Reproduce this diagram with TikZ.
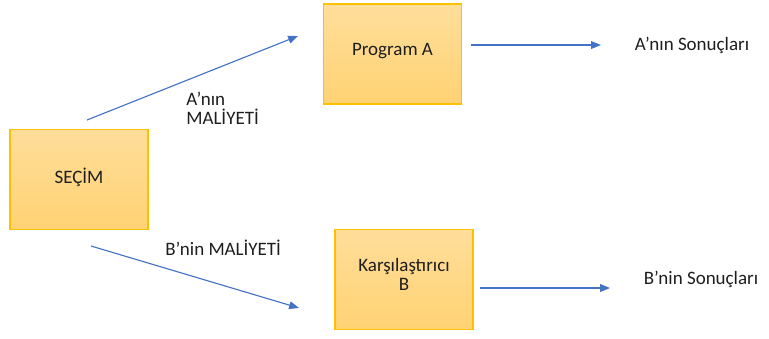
\documentclass[tikz,border=0pt]{standalone}
\usepackage{fontspec}
\setmainfont{Carlito}
\usepackage{xcolor}
\usepackage{tikz}
\usetikzlibrary{arrows.meta}

\definecolor{boxtop}{RGB}{255,222,155}
\definecolor{boxbot}{RGB}{255,210,115}
\definecolor{boxline}{RGB}{255,192,0}
\definecolor{arrowblue}{RGB}{68,114,196}
\definecolor{txt}{RGB}{30,30,30}

\tikzset{
  box/.style={top color=boxtop,bottom color=boxbot,draw=boxline,line width=0.9pt,text=txt,
    minimum width=138*0.025cm,minimum height=100*0.025cm,align=center,inner sep=0pt},
  lbl/.style={text=txt,inner sep=0pt},
  arr/.style={draw=arrowblue,line width=0.8pt,-{Triangle[length=7pt,width=5.5pt]}}
}

\begin{document}
\begin{tikzpicture}[x=0.025cm,y=-0.025cm,font=\fontsize{13.5}{12.5}\selectfont]
                    \useasboundingbox (0,0) rectangle (769,338);
                    \node[box] (SECIM) at (79,179.5) {SEÇİM\rule[-6pt]{0pt}{0pt}};
                    \node[box] (PA) at (392.5,54) {Program A\rule[-7pt]{0pt}{0pt}};
                    \node[box] (KB) at (404,279.5) {Karşılaştırıcı\\[1pt]B\rule[-7pt]{0pt}{0pt}};
                    \node[lbl] (SA) at (692,45) {A’nın Sonuçları};
                    \node[lbl] (SB) at (701,279) {B’nin Sonuçları};
                    \node[lbl,align=left,anchor=west] (MA) at (186,108.5) {A’nın\\[1pt]MALİYETİ};
                    \node[lbl,anchor=west] (MB) at (165,248) {B’nin MALİYETİ};

                    \coordinate (A0) at (87,120);
                    \coordinate (A1) at (298,36);
                    \coordinate (B0) at (91,246);
                    \coordinate (B1) at (299,308);
                    \coordinate (C0) at (471,45);
                    \coordinate (C1) at (601,45);
                    \coordinate (D0) at (480,288);
                    \coordinate (D1) at (610,288);

                    \draw[arr] (A0) -- (A1);
                    \draw[arr] (B0) -- (B1);
                    \draw[arr] (C0) -- (C1);
                    \draw[arr] (D0) -- (D1);
                \end{tikzpicture}
\end{document}
